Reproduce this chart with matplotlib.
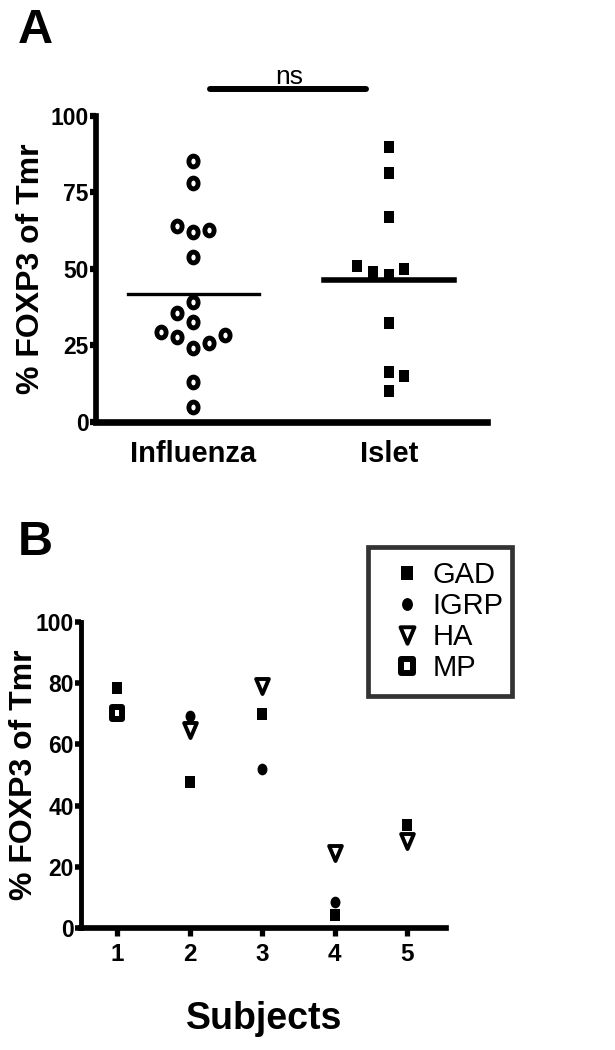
import numpy as np
import matplotlib
matplotlib.use("Agg")
import matplotlib.pyplot as plt
from matplotlib.path import Path
from matplotlib.transforms import Affine2D

plt.rcParams['font.family'] = ['Liberation Sans', 'DejaVu Sans']
NARROW = ['Liberation Sans Narrow', 'Liberation Sans', 'DejaVu Sans']

# panel A data (% FOXP3 of Tmr), with horizontal scatter offsets
groups = ["Influenza", "Islet"]
influenza = [85.3, 77.9, 64.1, 61.9, 62.6, 53.7, 39.2, 35.6, 32.7, 29.4,
             27.8, 24.0, 25.6, 28.3, 12.9, 4.7]
influenza_dx = [0, 0, -0.085, 0, 0.08, 0, 0, -0.085, 0, -0.165,
                -0.085, 0, 0.08, 0.163, 0, 0]
islet = [89.9, 81.4, 67.0, 50.9, 48.8, 47.9, 49.8, 32.4, 16.3, 14.9, 10.0]
islet_dx = [0, 0, 0, -0.163, -0.082, 0, 0.079, 0, 0, 0.079, 0]

# panel B data
subjects = [1, 2, 3, 4, 5]
gad = [78.3, 47.8, 69.9, 4.3, 33.6]
igrp = [np.nan, 69.2, 51.9, 8.5, np.nan]
ha = [np.nan, 64.8, 78.9, 24.7, 28.4]
mp = [70.1, np.nan, np.nan, np.nan, np.nan]

# the original figure is a bit squeezed sideways, so squeeze the markers too
sq = Affine2D().scale(0.85, 1.0)
m_circle = Path.unit_circle().transformed(sq)
m_square = Path([(-1, -1), (1, -1), (1, 1), (-1, 1), (-1, -1)],
                [1, 2, 2, 2, 79]).transformed(sq)
m_tri = Path([(0, -1), (-1, 1), (1, 1), (0, -1)], [1, 2, 2, 79]).transformed(sq)

fig = plt.figure(figsize=(6.15, 10.5), dpi=100)

# ---------------- panel A ----------------
axA = fig.add_axes([0.1555, 0.5984, 0.636, 0.2914])
axA.plot(1 + np.array(influenza_dx), influenza, ls='none', marker=m_circle,
         ms=7.8, mfc='white', mec='black', mew=3.5, clip_on=False)
axA.plot(2 + np.array(islet_dx), islet, ls='none', marker=m_square,
         ms=8.4, mfc='black', mec='black', mew=0, clip_on=False)
axA.plot([1 - 1/3, 1 + 1/3], [np.mean(influenza)] * 2, color='black', lw=2.4)
axA.plot([2 - 1/3, 2 + 1/3], [np.mean(islet)] * 2, color='black', lw=4)

axA.plot([1.084, 1.885], [108.6, 108.6], color='black', lw=4.3,
         solid_capstyle='round', clip_on=False)
axA.text(1.488, 110.5, "ns", ha='center', va='baseline', fontsize=19,
         family=NARROW)

axA.set_xlim(0.5, 2.5)
axA.set_ylim(0, 100)
axA.set_yticks([0, 25, 50, 75, 100])
axA.set_xticks([1, 2])
axA.set_xticklabels(groups, fontsize=21, fontweight='bold', family=NARROW)
for lab in axA.get_yticklabels():
    lab.set_fontsize(16.5)
    lab.set_fontweight('bold')
    lab.set_family(NARROW)
axA.tick_params(axis='x', length=0, pad=13)
axA.tick_params(axis='y', length=4, width=4.5, pad=1)
for s in ['top', 'right']:
    axA.spines[s].set_visible(False)
axA.spines['left'].set_linewidth(4.1)
axA.spines['bottom'].set_linewidth(4.8)
axA.set_ylabel("% FOXP3 of Tmr", fontsize=23, fontweight='bold')
axA.yaxis.set_label_coords(-0.128, 0.5)

fig.text(0.057, 1 - 43 / 1050, "A", fontsize=35, fontweight='bold',
         ha='center', va='baseline', family=NARROW)

# ---------------- panel B ----------------
axB = fig.add_axes([0.1322, 0.1159, 0.593, 0.292])
axB.plot(subjects, gad, ls='none', marker=m_square, ms=8.8, mfc='black',
         mec='black', mew=0, label="GAD", clip_on=False)
axB.plot(subjects, igrp, ls='none', marker=m_circle, ms=8.4, mfc='black',
         mec='black', mew=0, label="IGRP", clip_on=False)
axB.plot(subjects, ha, ls='none', marker=m_tri, ms=10.8, mfc='white',
         mec='black', mew=2.8, label="HA", clip_on=False)
axB.plot(subjects, mp, ls='none', marker=m_square, ms=8.6, mfc='white',
         mec='black', mew=4.3, label="MP", clip_on=False)

axB.set_xlim(0.5, 5.54)
axB.set_ylim(0, 100)
axB.set_xticks(subjects)
axB.set_yticks([0, 20, 40, 60, 80, 100])
for lab in axB.get_xticklabels():
    lab.set_fontsize(17.5)
    lab.set_fontweight('bold')
    lab.set_family(NARROW)
for lab in axB.get_yticklabels():
    lab.set_fontsize(16.5)
    lab.set_fontweight('bold')
    lab.set_family(NARROW)
axB.tick_params(axis='x', length=5.8, width=3.8, pad=5)
axB.tick_params(axis='y', length=4.3, width=4, pad=1)
for s in ['top', 'right']:
    axB.spines[s].set_visible(False)
axB.spines['left'].set_linewidth(3.5)
axB.spines['bottom'].set_linewidth(4.1)
axB.set_ylabel("% FOXP3 of Tmr", fontsize=23, fontweight='bold')
axB.yaxis.set_label_coords(-0.117, 0.5)
axB.set_xlabel("Subjects", fontsize=27, fontweight='bold', labelpad=25,
               family=NARROW)

leg = axB.legend(loc='center', bbox_to_anchor=(368 / 615, 1 - 706 / 1050,
                                                143.5 / 615, 169 / 1050),
                 bbox_transform=fig.transFigure, mode='expand',
                 prop={'family': NARROW, 'size': 21}, frameon=True,
                 fancybox=False, borderpad=0.5, labelspacing=0.1,
                 handlelength=1.7, handletextpad=0.02, borderaxespad=0,
                 markerscale=1.1)
leg.get_frame().set_edgecolor('black')
leg.get_frame().set_linewidth(3.4)

fig.text(0.057, 1 - 555 / 1050, "B", fontsize=35, fontweight='bold',
         ha='center', va='baseline', family=NARROW)

fig.savefig("out.png", dpi=100)
